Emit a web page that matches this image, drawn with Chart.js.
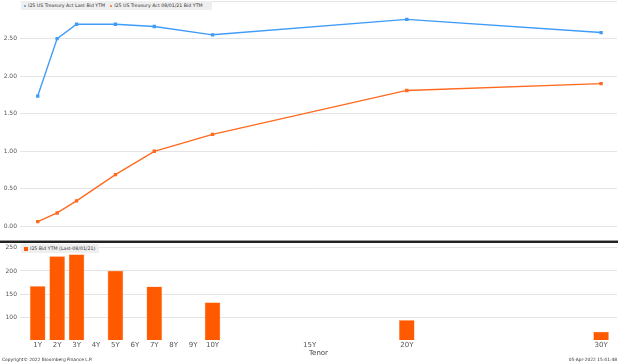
<!DOCTYPE html>
<html>
<head>
<meta charset="utf-8">
<script src="https://cdn.jsdelivr.net/npm/chart.js@4.4.1/dist/chart.umd.min.js"></script>
<style>
  html, body { margin: 0; padding: 0; background: #fff; }
  body { width: 618px; height: 363px; position: relative; overflow: hidden; font-family: "DejaVu Sans", sans-serif; }
  #topWrap { position: absolute; left: 0; top: 0; width: 618px; height: 240px; }
  #botWrap { position: absolute; left: 0; top: 243px; width: 618px; height: 120px; }
  .sep { position: absolute; left: 0; width: 618px; }
  .legend { position: absolute; background: #efefef; font-size: 4.7px; color: #333; white-space: nowrap; line-height: 9px; padding: 0 4px 0 3px; }
  .legend span.dot { display: inline-block; width: 2px; height: 2px; border-radius: 1px; margin: 0 2px 0 0; vertical-align: middle; }
  .legend span.sq { display: inline-block; width: 4px; height: 4px; margin: 0 2px 0 0; vertical-align: middle; }
  .legend span.item { margin-right: 5px; }
  .foot { position: absolute; font-size: 4.4px; color: #333; white-space: nowrap; }
</style>
</head>
<body>
<div id="topWrap"><canvas id="yieldChart"></canvas></div>
<div class="sep" style="top:240px;height:1px;background:#999"></div>
<div class="sep" style="top:241px;height:2px;background:#222"></div>
<div id="botWrap"><canvas id="spreadChart"></canvas></div>

<div class="legend" style="left:21px;top:1px;">
  <span class="item"><span class="dot" style="background:#3f9cf8"></span>I25 US Treasury Act Last Bid YTM</span><span class="item"><span class="dot" style="background:#ff6a1f"></span>I25 US Treasury Act 08/01/21 Bid YTM</span>
</div>
<div class="legend" style="left:21px;top:244px;">
  <span class="sq" style="background:#ff5a00"></span>I25 Bid YTM (Last-08/01/21)
</div>
<div class="foot" style="left:2px;top:357px;">Copyright© 2022 Bloomberg Finance L.P.</div>
<div class="foot" style="right:1px;top:357px;">05-Apr-2022 15:41:48</div>

<script>
// tenors in years
const tenors = [1, 2, 3, 5, 7, 10, 20, 30];
const lastYield = [1.735, 2.50, 2.69, 2.69, 2.66, 2.55, 2.755, 2.58];
const priorYield = [0.064, 0.18, 0.34, 0.69, 1.00, 1.226, 1.81, 1.90];
const spreadBp = [167, 231, 235, 200, 166, 132, 94, 69];

const tenorTicks = [1, 2, 3, 4, 5, 6, 7, 8, 9, 10, 15, 20, 30];
const yieldTicks = [0, 0.5, 1.0, 1.5, 2.0, 2.5, 3.0];
const spreadTicks = [100, 150, 200, 250];

const X_MIN = 0.088, X_MAX = 30.82;
const gridColor = '#e4e4e4';
const tickColor = '#555';

function fixY(scale) {
  scale.width = 20;
  scale.paddingTop = 0;
  scale.paddingBottom = 0;
}

function toPoints(ys) {
  return tenors.map((t, i) => ({ x: t, y: ys[i] }));
}

const topCtx = document.getElementById('yieldChart').getContext('2d');
new Chart(topCtx, {
  type: 'line',
  data: {
    datasets: [
      {
        label: 'I25 US Treasury Act Last Bid YTM',
        data: toPoints(lastYield),
        borderColor: '#3f9cf8',
        backgroundColor: '#3f9cf8',
        borderWidth: 1.4,
        pointRadius: 1.4,
        pointStyle: 'rect',
        tension: 0,
      },
      {
        label: 'I25 US Treasury Act 08/01/21 Bid YTM',
        data: toPoints(priorYield),
        borderColor: '#ff6a1f',
        backgroundColor: '#ff6a1f',
        borderWidth: 1.4,
        pointRadius: 1.4,
        pointStyle: 'rect',
        tension: 0,
      },
    ],
  },
  options: {
    responsive: true,
    maintainAspectRatio: false,
    animation: false,
    layout: { autoPadding: false, padding: { top: 1, right: 1, left: 0, bottom: 0 } },
    plugins: { legend: { display: false }, tooltip: { enabled: false } },
    scales: {
      x: {
        type: 'linear',
        display: false,
        min: X_MIN,
        max: X_MAX,
      },
      y: {
        min: -0.18,
        max: 3.0,
        afterBuildTicks: (scale) => { scale.ticks = yieldTicks.map(v => ({ value: v })); },
        afterFit: fixY,
        border: { display: false },
        grid: { color: gridColor, drawTicks: false },
        ticks: {
          padding: 3,
          color: tickColor,
          font: { family: 'DejaVu Sans', size: 6 },
          callback: (v) => (v >= 3 ? '' : v.toFixed(2)),
        },
      },
    },
  },
});

const botCtx = document.getElementById('spreadChart').getContext('2d');
new Chart(botCtx, {
  type: 'bar',
  data: {
    datasets: [
      {
        label: 'I25 Bid YTM (Last-08/01/21)',
        data: toPoints(spreadBp),
        backgroundColor: '#ff5a00',
        borderColor: '#ffb487',
        borderWidth: 0.6,
        barThickness: 15,
      },
    ],
  },
  options: {
    responsive: true,
    maintainAspectRatio: false,
    animation: false,
    layout: { autoPadding: false, padding: { top: 0, right: 1, left: 0, bottom: 0 } },
    plugins: { legend: { display: false }, tooltip: { enabled: false } },
    scales: {
      x: {
        type: 'linear',
        min: X_MIN,
        max: X_MAX,
        offset: false,
        afterBuildTicks: (scale) => { scale.ticks = tenorTicks.map(v => ({ value: v })); },
        afterFit: (scale) => { scale.height = 23; scale.paddingLeft = 0; scale.paddingRight = 0; },
        border: { display: false },
        grid: { display: false, drawTicks: false },
        ticks: {
          padding: 1,
          maxRotation: 0,
          autoSkip: false,
          color: tickColor,
          font: { family: 'DejaVu Sans', size: 7 },
          callback: (v) => v + 'Y',
        },
        title: {
          display: true,
          text: 'Tenor',
          color: '#444',
          font: { family: 'DejaVu Sans', size: 7 },
          padding: { top: 0, bottom: 6 },
        },
      },
      y: {
        min: 52,
        max: 260,
        afterBuildTicks: (scale) => { scale.ticks = spreadTicks.map(v => ({ value: v })); },
        afterFit: fixY,
        border: { display: false },
        grid: { color: gridColor, drawTicks: false },
        ticks: {
          padding: 3,
          color: tickColor,
          font: { family: 'DejaVu Sans', size: 6 },
        },
      },
    },
  },
});
</script>
</body>
</html>
